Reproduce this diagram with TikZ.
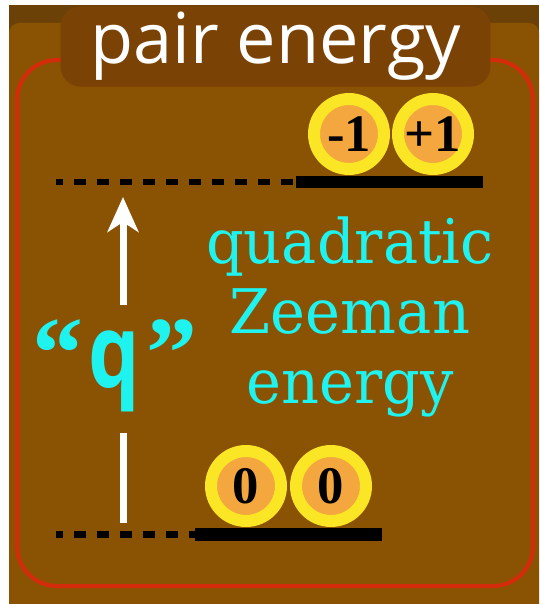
\documentclass[tikz,border=0pt]{standalone}
\usepackage{fontspec}
\usetikzlibrary{arrows.meta,positioning}
\newfontfamily\titlefont{Open Sans}
\newfontfamily\zeemanfont[FakeStretch=0.96]{DejaVu Serif}
\newfontfamily\qfont[FakeStretch=0.8]{Open Sans}
\newfontfamily\quotefont{Liberation Serif}
\newfontfamily\spinfont{Liberation Serif}
\definecolor{bgtop}{HTML}{6C4108}
\definecolor{bgmain}{HTML}{8A5203}
\definecolor{titlefill}{HTML}{7A4204}
\definecolor{framered}{HTML}{D42B0B}
\definecolor{syellow}{HTML}{FBE626}
\definecolor{sorange}{HTML}{F3A73E}
\definecolor{qcyan}{HTML}{1FF3F0}
\tikzset{
  spin/.style={circle,fill=sorange,draw=syellow,line width=0.24cm,minimum size=1.4cm,
               inner sep=0pt,font=\spinfont\bfseries\fontsize{30}{30}\selectfont},
  lvl/.style={fill=black,inner sep=0pt,minimum width=3.74cm,minimum height=0.25cm},
  dashlvl/.style={black,line width=0.13cm,dash pattern=on 0.24cm off 0.22cm,dash phase=0.1cm},
  qline/.style={white,line width=0.14cm},
  qarr/.style={qline,-{Stealth[length=0.7cm,width=0.62cm,inset=0.2cm]}},
}
\begin{document}
\begin{tikzpicture}[x=0.02cm,y=-0.02cm]
\useasboundingbox (0,0) rectangle (539,604);
% backdrop
\fill[white] (0,0) rectangle (539,604);
\fill[bgtop] (9,5) rectangle (539,604);
\fill[bgmain] (9,604) [rounded corners=0.2cm] |- (539,23) [sharp corners] -- (539,604) -- cycle;
\draw[framered,line width=0.08cm,rounded corners=0.8cm] (17,60) rectangle (533,586);
% title
\node[fill=titlefill,rounded corners=0.4cm,minimum width=8.6cm,minimum height=1.54cm,
      text=white,font=\titlefont\fontsize{40}{40}\selectfont] (title) at (275.5,46.5) {pair energy};
% levels
\node[lvl] (barU) at (389.5,182) {};
\node[lvl] (barL) at (288.5,534.5) {};
\coordinate (dashU) at (56,182);
\coordinate (dashL) at (56,534.5);
\draw[dashlvl] (dashU) -- (barU.west);
\draw[dashlvl] (dashL) -- (barL.west);
% pairs
\node[spin] (m1) at (349,134) {-1};
\node[spin] (p1) at (433,134) {+1};
\node[spin] (z1) at (246,486) {0};
\node[spin] (z2) at (331,486) {0};
% q
\node[text=qcyan,font=\quotefont\bfseries\fontsize{58}{58}\selectfont,inner sep=0pt] (qlab) at (115,366)
  {“\kern3pt{\qfont\fontsize{58}{58}\selectfont q}\kern4pt”};
\coordinate (qfoot) at (123,305);
\coordinate (qhead) at (123,197);
\coordinate (qlow) at (123,433);
\coordinate (qbot) at (123,523);
\draw[qarr] (qfoot) -- (qhead);
\draw[qline] (qlow) -- (qbot);
\node[text=qcyan,align=center,font=\zeemanfont\fontsize{35}{40}\selectfont] (zeeman) at (350,317)
  {quadratic\\Zeeman\\energy};
\end{tikzpicture}
\end{document}
